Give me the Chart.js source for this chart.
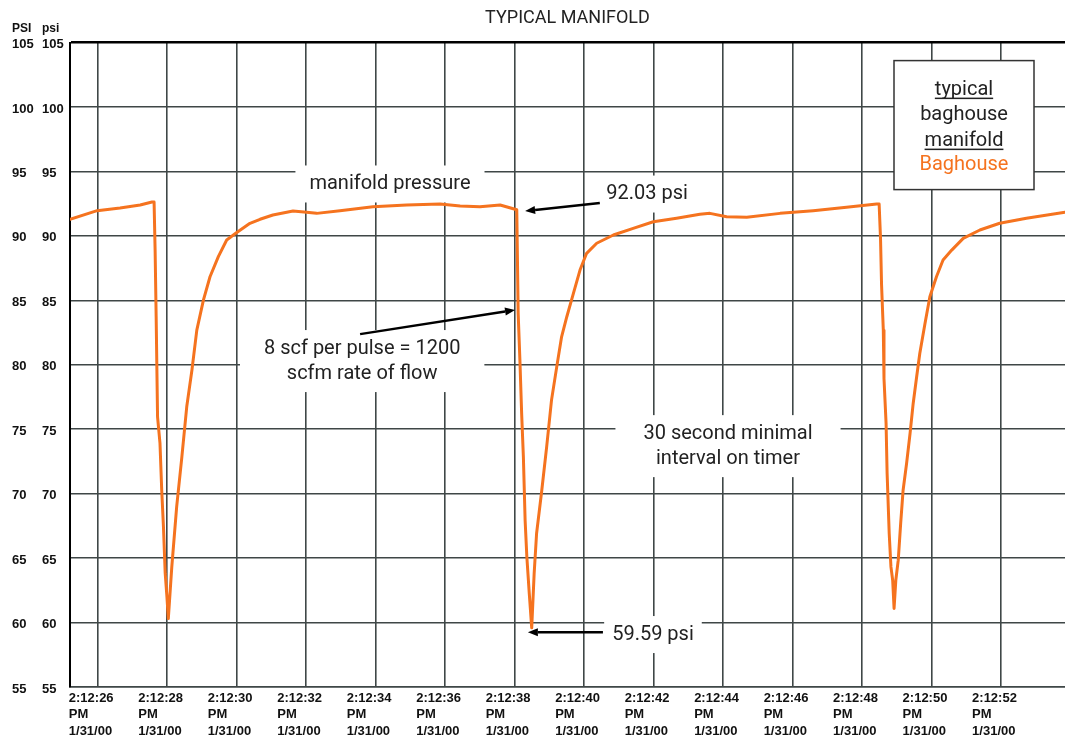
<!DOCTYPE html>
<html>
<head>
<meta charset="utf-8">
<title>Typical Manifold</title>
<script src="https://cdn.jsdelivr.net/npm/chart.js@4.4.0/dist/chart.umd.min.js"></script>
<style>
    html, body { margin: 0; padding: 0; background: #fff; }
    #chart-container { position: relative; width: 1065px; height: 737px; }
</style>
</head>
<body>
<div id="chart-container"><canvas id="manifold-chart"></canvas></div>
<script>
// seconds after 2:12:00 PM, 1/31/00
let seconds = [25.20, 25.98, 26.64, 27.22, 27.56, 27.62,
    27.65, 27.68, 27.72, 27.79, 27.84, 27.89, 27.94, 27.99, 28.03,
    28.13, 28.27, 28.42, 28.56, 28.71, 28.85, 29.04, 29.23, 29.47, 29.71, 30.00, 30.38, 30.67,
    31.04, 31.62, 32.01, 32.30, 32.97, 33.92, 34.89, 35.85, 36.43, 37.00, 37.58, 38.06,
    38.10, 38.15, 38.20, 38.25, 38.30, 38.35, 38.42, 38.49,
    38.56, 38.63, 38.78, 38.92, 39.06, 39.21, 39.35, 39.50, 39.69, 39.88, 40.07, 40.36, 40.84,
    41.41, 41.99, 42.66, 43.33, 43.62, 44.10, 44.68, 45.64, 46.59, 47.55, 48.42, 48.49,
    48.53, 48.56, 48.61, 48.63, 48.69, 48.72, 48.78, 48.83, 48.88, 48.92,
    48.97, 49.04, 49.11, 49.18, 49.28, 49.38, 49.47, 49.57, 49.66, 49.81, 49.95, 50.14, 50.33,
    50.58, 50.91, 51.39, 51.96, 52.73, 53.84];

let psi = [91.29, 91.96, 92.17, 92.40, 92.63, 92.63,
    88.90, 83.73, 75.96, 73.92, 70.27, 67.42, 63.83, 61.99, 60.31,
    64.32, 68.98, 72.86, 76.74, 79.59, 82.69, 85.02, 86.83, 88.39, 89.68, 90.26, 90.98, 91.29,
    91.62, 91.93, 91.83, 91.75, 91.96, 92.27, 92.40, 92.48, 92.32, 92.27, 92.40, 92.03,
    83.99, 80.36, 76.23, 72.86, 67.94, 65.09, 62.25, 59.59,
    63.80, 66.91, 70.27, 73.63, 77.26, 79.84, 82.17, 83.73, 85.54, 87.35, 88.65, 89.43, 90.07,
    90.59, 91.10, 91.37, 91.68, 91.75, 91.49, 91.44, 91.75, 91.96, 92.22, 92.48, 92.48,
    89.81, 86.19, 82.69, 78.94, 75.45, 71.57, 66.91, 64.32, 63.28, 61.09,
    63.28, 64.84, 67.69, 70.27, 72.34, 74.67, 77.00, 79.07, 80.88, 83.21, 85.28, 86.83, 88.13,
    88.90, 89.81, 90.46, 90.98, 91.37, 91.84];

let tickSeconds = [26, 28, 30, 32, 34, 36, 38, 40, 42, 44, 46, 48, 50, 52];
let tickTimes = ["2:12:26", "2:12:28", "2:12:30", "2:12:32", "2:12:34", "2:12:36", "2:12:38",
    "2:12:40", "2:12:42", "2:12:44", "2:12:46", "2:12:48", "2:12:50", "2:12:52"];
let tickPeriod = "PM";
let tickDate = "1/31/00";

let seriesName = "Baghouse";
let legendLines = ["typical", "baghouse", "manifold"];

// text notes and arrows, placed in data units (seconds, psi)
let notes = [
    { lines: ["manifold pressure"], x: 34.41, y: 94.03, padX: 14 },
    { lines: ["92.03 psi"], x: 41.81, y: 93.25, padX: 12 },
    { lines: ["8 scf per pulse = 1200", "scfm rate of flow"], x: 33.61, y: 80.29, padX: 24 },
    { lines: ["30 second minimal", "interval on timer"], x: 44.14, y: 73.69, padX: 28 },
    { lines: ["59.59 psi"], x: 41.98, y: 59.07, padX: 8 }
];
let arrows = [
    { from: [40.45, 92.55], to: [38.30, 91.93] },
    { from: [33.55, 82.38], to: [38.01, 84.25] },
    { from: [40.54, 59.25], to: [38.38, 59.25] }
];

let orange = "#F5731F";
let gridGray = "#3f4747";
let tickFont = { family: "'Liberation Sans', Arial, sans-serif", size: 13, weight: "bold", lineHeight: 1.27 };
let noteFont = "20px Roboto, 'Noto Sans', sans-serif";

const notesPlugin = {
    id: "notes",
    beforeDatasetsDraw(chart) {
        let ctx = chart.ctx;
        let xs = chart.scales.x;
        let ys = chart.scales.y;
        ctx.save();
        ctx.font = noteFont;
        ctx.textAlign = "center";
        ctx.textBaseline = "middle";
        let lineH = 25;
        notes.forEach((n) => {
            let cx = xs.getPixelForValue(n.x);
            let cy = ys.getPixelForValue(n.y);
            let w = Math.max(...n.lines.map((l) => ctx.measureText(l).width));
            let h = lineH * n.lines.length;
            ctx.fillStyle = "#fff";
            ctx.fillRect(cx - w / 2 - n.padX, cy - h / 2 - 6, w + 2 * n.padX, h + 12);
            ctx.fillStyle = "#222";
            n.lines.forEach((l, i) => ctx.fillText(l, cx, cy - h / 2 + lineH / 2 + i * lineH));
        });

        ctx.strokeStyle = "#000";
        ctx.fillStyle = "#000";
        ctx.lineWidth = 2.5;
        arrows.forEach((a) => {
            let x1 = xs.getPixelForValue(a.from[0]), y1 = ys.getPixelForValue(a.from[1]);
            let x2 = xs.getPixelForValue(a.to[0]), y2 = ys.getPixelForValue(a.to[1]);
            let ang = Math.atan2(y2 - y1, x2 - x1);
            let len = 10, half = 4;
            let bx = x2 - len * Math.cos(ang), by = y2 - len * Math.sin(ang);
            ctx.beginPath();
            ctx.moveTo(x1, y1);
            ctx.lineTo(bx, by);
            ctx.stroke();
            ctx.beginPath();
            ctx.moveTo(x2, y2);
            ctx.lineTo(bx + half * Math.sin(ang), by - half * Math.cos(ang));
            ctx.lineTo(bx - half * Math.sin(ang), by + half * Math.cos(ang));
            ctx.closePath();
            ctx.fill();
        });
        ctx.restore();
    },
    afterDatasetsDraw(chart) {
        let ctx = chart.ctx;
        let area = chart.chartArea;
        ctx.save();

        // legend box
        let bw = 140, bh = 129;
        let bx = area.right - 31 - bw;
        let by = area.top + 18;
        ctx.fillStyle = "#fff";
        ctx.fillRect(bx, by, bw, bh);
        ctx.strokeStyle = "#333";
        ctx.lineWidth = 1.5;
        ctx.strokeRect(bx, by, bw, bh);

        ctx.font = noteFont;
        ctx.textAlign = "center";
        ctx.textBaseline = "middle";
        let cx = bx + bw / 2;
        let rows = [29, 54, 80, 104];
        legendLines.forEach((l, i) => {
            ctx.fillStyle = "#222";
            ctx.fillText(l, cx, by + rows[i]);
            if (i !== 1) {
                let w = ctx.measureText(l).width;
                ctx.fillRect(cx - w / 2, by + rows[i] + 8, w, 1.5);
            }
        });
        ctx.fillStyle = chart.data.datasets[0].borderColor;
        ctx.fillText(chart.data.datasets[0].label, cx, by + rows[3]);

        // unit headers above the two tick columns
        ctx.font = "bold 12px 'Liberation Sans', Arial, sans-serif";
        ctx.textAlign = "left";
        ctx.fillStyle = "#111";
        ctx.fillText("PSI", chart.scales.y2.left, 29);
        ctx.fillText("psi", chart.scales.y.left, 29);
        ctx.restore();
    }
};

function yTicks() {
    return {
        stepSize: 5,
        crossAlign: "far",
        padding: 0,
        labelOffset: 2,
        color: "#111",
        font: tickFont,
        callback: (v) => String(v)
    };
}

function makeChart() {
    let canvas = document.getElementById("manifold-chart");
    let points = seconds.map((s, i) => ({ x: s, y: psi[i] }));

    new Chart(canvas.getContext("2d"), {
        type: "line",
        data: {
            datasets: [{
                label: seriesName,
                data: points,
                borderColor: orange,
                borderWidth: 3,
                borderJoinStyle: "round",
                borderCapStyle: "round",
                pointRadius: 0,
                tension: 0,
                fill: false
            }]
        },
        options: {
            responsive: true,
            maintainAspectRatio: false,
            animation: false,
            layout: { padding: { left: 12, right: 0, top: 0, bottom: 0 } },
            plugins: {
                legend: { display: false },
                tooltip: { enabled: false },
                title: {
                    display: true,
                    text: "TYPICAL MANIFOLD",
                    fullSize: false,
                    color: "#222",
                    font: { family: "Roboto, 'Noto Sans', sans-serif", size: 18, weight: "normal", lineHeight: 1.2 },
                    padding: { top: 8, bottom: 13 }
                }
            },
            scales: {
                x: {
                    type: "linear",
                    min: 25.2,
                    max: 53.84,
                    afterBuildTicks: (s) => { s.ticks = tickSeconds.map((v) => ({ value: v })); },
                    afterFit: (s) => { s.height = 50; },
                    ticks: {
                        align: "start",
                        labelOffset: -29,
                        padding: 3,
                        maxRotation: 0,
                        autoSkip: false,
                        color: "#111",
                        font: tickFont,
                        callback: (v) => {
                            let i = tickSeconds.indexOf(v);
                            return [tickTimes[i], tickPeriod, tickDate];
                        }
                    },
                    grid: { color: gridGray, lineWidth: 1.6, drawTicks: false },
                    border: { color: gridGray, width: 1.6 }
                },
                y: {
                    position: "left",
                    weight: 0,
                    min: 55,
                    max: 105,
                    ticks: yTicks(),
                    afterFit: (s) => { s.width = 28; },
                    grid: {
                        color: (c) => (c.tick && c.tick.value === 105 ? "#000" : gridGray),
                        lineWidth: (c) => (c.tick && c.tick.value === 105 ? 2.5 : 1.6),
                        drawTicks: false
                    },
                    border: { color: "#000", width: 2 }
                },
                y2: {
                    position: "left",
                    weight: 1,
                    min: 55,
                    max: 105,
                    ticks: yTicks(),
                    afterFit: (s) => { s.width = 30; },
                    grid: { display: false, drawTicks: false },
                    border: { display: false }
                }
            }
        },
        plugins: [notesPlugin]
    });
}
makeChart();
</script>
</body>
</html>
